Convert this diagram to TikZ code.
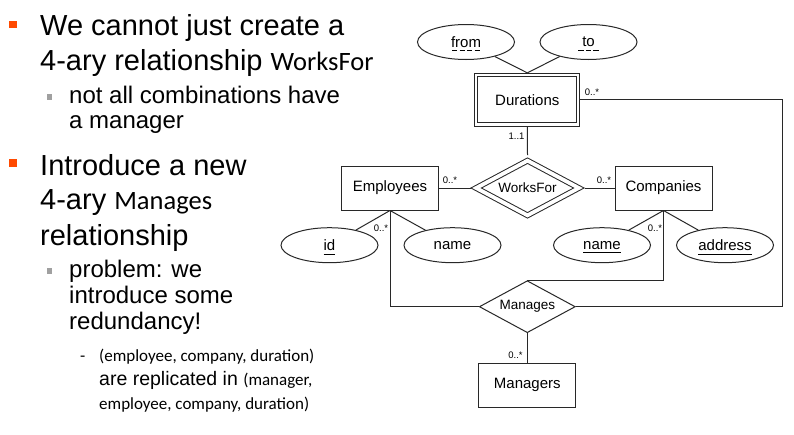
\documentclass[tikz,border=0pt]{standalone}
\usepackage{fontspec}
\setmainfont{Liberation Sans}
\newfontfamily\calib{Carlito}
\usetikzlibrary{shapes.geometric}
\definecolor{bulletorange}{RGB}{255,74,0}
\definecolor{bulletgray}{RGB}{160,160,160}
\definecolor{erline}{RGB}{40,40,40}
\newsavebox{\ulbox}
\newcommand{\keyul}[1]{\sbox{\ulbox}{#1}\leavevmode\rlap{\usebox{\ulbox}}\raisebox{-3.8pt}[0pt][0pt]{\rule{\wd\ulbox}{0.8pt}}}
\newcommand{\partkeyul}[1]{\sbox{\ulbox}{#1}\leavevmode\rlap{\usebox{\ulbox}}\raisebox{-3.8pt}[0pt][0pt]{\hbox to \wd\ulbox{\cleaders\hbox{\hskip1.1pt\rule{5.3pt}{0.8pt}\hskip1.1pt}\hfill}}}

\begin{document}
\begin{tikzpicture}[x=1pt,y=-1pt,
  entity/.style={draw=erline, line width=1pt, rectangle, minimum width=97pt, minimum height=44pt, inner sep=0pt, font=\fontsize{15}{18}\selectfont},
  weakentity/.style={entity, double, double distance=2.3pt, minimum width=102pt, minimum height=49.4pt, outer sep=2.15pt},
  rel/.style={draw=erline, line width=1pt, diamond, aspect=1.85, minimum width=96pt, minimum height=52pt, inner sep=0pt, font=\fontsize{13.5}{16}\selectfont},
  weakrel/.style={rel, double, double distance=3.8pt, minimum width=106pt, minimum height=58pt, outer sep=4pt},
  attr/.style={draw=erline, line width=1pt, ellipse, minimum width=97pt, minimum height=35pt, inner sep=0pt, font=\fontsize{15}{18}\selectfont},
  card/.style={inner sep=0pt, font=\fontsize{9.5}{10}\selectfont},
  link/.style={draw=erline, line width=1pt},
  bigline/.style={anchor=base west, inner sep=0pt, font=\fontsize{29}{35}\selectfont},
  subline/.style={anchor=base west, inner sep=0pt, font=\fontsize{24}{26}\selectfont},
  smallline/.style={anchor=base west, inner sep=0pt, font=\fontsize{19.5}{23}\selectfont},
  orangebox/.style={fill=bulletorange, minimum size=7.5pt, inner sep=0pt},
  graybox/.style={fill=bulletgray, minimum size=5.5pt, inner sep=0pt}
]
\useasboundingbox[fill=white] (0,0) rectangle (794,434);

% slide text
\node[orangebox] (b1) at (13,24.7) {};
\node[bigline] (t1) at (40,35) {We cannot just create a};
\node[bigline] (t2) at (40,70.5) {4-ary relationship {\calib\fontsize{26.5}{30}\selectfont WorksFor}};
\node[graybox] (g1) at (49.5,97) {};
\node[subline] (s1) at (69,103) {not all combinations have};
\node[subline] (s2) at (69,128.5) {a manager};
\node[orangebox] (b2) at (13,163) {};
\node[bigline] (t3) at (40,175) {Introduce a new};
\node[bigline] (t4) at (40,209.5) {4-ary {\calib\fontsize{26.5}{30}\selectfont Manages}};
\node[bigline] (t5) at (40,245) {relationship};
\node[graybox] (g2) at (49.5,271) {};
\node[subline] (s3) at (69,277.5) {problem: we};
\node[subline] (s4) at (69,303.3) {introduce some};
\node[subline] (s5) at (69,329.3) {redundancy!};
\node[smallline] (d1) at (80,361.5) {\calib\fontsize{17}{20}\selectfont -};
\node[smallline] (u1) at (99,361.5) {\calib\fontsize{17}{20}\selectfont (employee, company, duration)};
\node[smallline] (u2) at (99,385) {are replicated in {\calib\fontsize{17}{20}\selectfont (manager,}};
\node[smallline] (u3) at (99,409) {\calib\fontsize{17}{20}\selectfont employee, company, duration)};

% ER diagram
\node[attr] (fromA) at (466,42) {\partkeyul{from}};
\node[attr] (toA) at (588.5,42) {\partkeyul{\hbox to 23pt{\hss to\hss}}};
\node[weakentity] (dur) at (527.3,99.7) {Durations};
\node[weakrel] (wf) at (527.5,188) {WorksFor};
\node[entity] (emp) at (390,188) {Employees};
\node[entity] (comp) at (663.5,188) {Companies};
\node[attr] (idA) at (329.5,245.2) {\keyul{id}};
\node[attr] (enameA) at (452.5,245.2) {name};
\node[attr] (cnameA) at (602,245.2) {\keyul{name}};
\node[attr] (addrA) at (725,245.2) {\keyul{address}};
\node[rel] (man) at (527.3,306.7) {Manages};
\node[entity] (mgr) at (527.3,385) {Managers};
\coordinate (rc) at (782.7,306.7);

\draw[link] (fromA) -- (dur.north);
\draw[link] (toA) -- (dur.north);
\draw[link] (dur.south) -- (wf.north);
\draw[link] (emp.east) -- (wf.west);
\draw[link] (wf.east) -- (comp.west);
\draw[link] (emp.south) -- (idA);
\draw[link] (emp.south) -- (enameA);
\draw[link] (comp.south) -- (cnameA);
\draw[link] (comp.south) -- (addrA);
\draw[link] (emp.south) |- (man.west);
\draw[link] (comp.south) |- (man.north);
\draw[link] (dur.east) -| (rc) -- (man.east);
\draw[link] (man.south) -- (mgr.north);

% cardinalities
\node[card] (c1) at (592,92) {0..*};
\node[card] (c2) at (516.5,136.5) {1..1};
\node[card] (c3) at (450,180) {0..*};
\node[card] (c4) at (604,180) {0..*};
\node[card] (c5) at (381,228.5) {0..*};
\node[card] (c6) at (655,228.5) {0..*};
\node[card] (c7) at (515.5,355.5) {0..*};
\end{tikzpicture}
\end{document}
